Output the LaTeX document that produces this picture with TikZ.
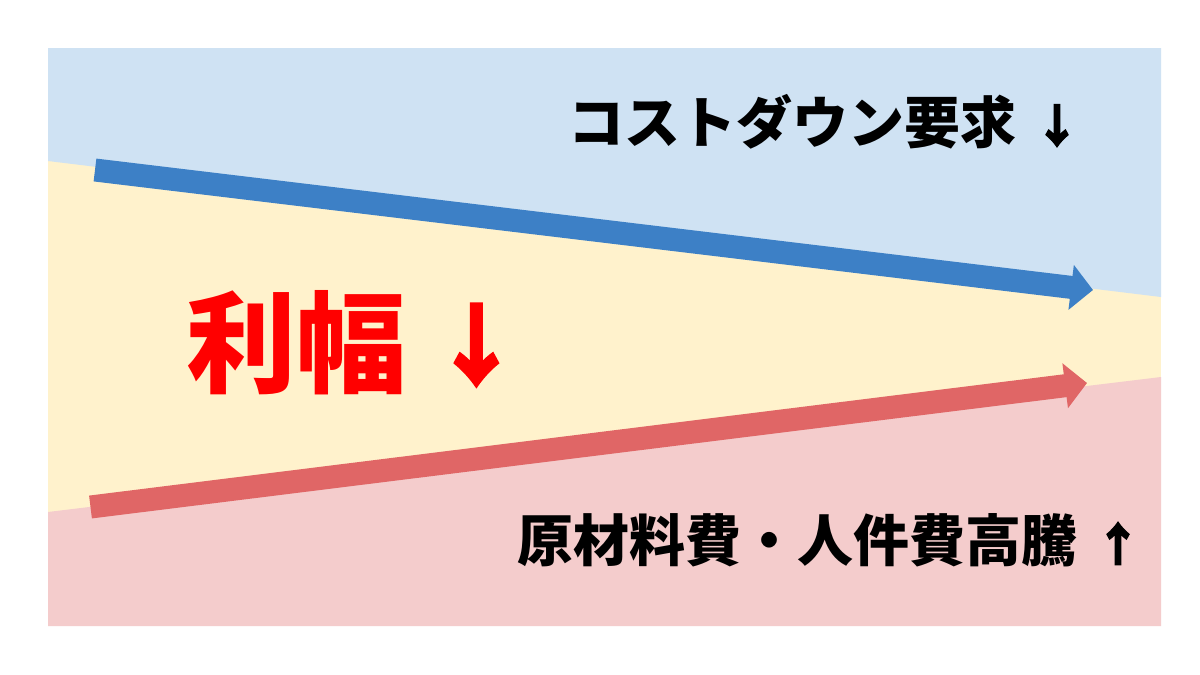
\documentclass[tikz,border=0pt]{standalone}
\usepackage{fontspec}
\newfontfamily\cjk{Noto Sans CJK JP}
\newfontfamily\cjkheavy{Noto Sans CJK JP}[BoldFeatures={FakeBold=2.5}]
\usetikzlibrary{arrows.meta}
\definecolor{bgblue}{HTML}{CFE2F3}
\definecolor{bgyellow}{HTML}{FFF2CC}
\definecolor{bgpink}{HTML}{F4CCCC}
\definecolor{arrblue}{HTML}{3D80C6}
\definecolor{arrred}{HTML}{E06666}
\definecolor{txtred}{HTML}{FF0000}
\newcommand{\smallarr}[1]{\hspace{5pt}{\cjkheavy\bfseries\fontsize{46}{48}\selectfont #1}}
\newcommand{\bigarr}[1]{\raisebox{5pt}{\cjkheavy\bfseries\fontsize{90}{96}\selectfont #1}}
\tikzset{
  bigarrow/.style={line width=23pt, line cap=butt, -{Triangle[length=22pt,width=44pt]}},
  lbl/.style={inner sep=0pt, anchor=base west, font=\cjk\bfseries\fontsize{56}{60}\selectfont},
  biglbl/.style={inner sep=0pt, anchor=base west, text=txtred, font=\cjk\bfseries\fontsize{110}{120}\selectfont}
}
\begin{document}
\begin{tikzpicture}[x=1pt,y=-1pt]
\useasboundingbox (0,0) rectangle (1200,675);
\fill[white] (0,0) rectangle (1200,675);
% background bands
\fill[bgyellow] (48,48) rectangle (1161,626);
\fill[bgblue] (48,48) -- (1161,48) -- (1161,297) -- (48,161) -- cycle;
\fill[bgpink] (48,512) -- (1161,377) -- (1161,626) -- (48,626) -- cycle;
% arrows
\coordinate (btail) at (95,170);
\coordinate (btip) at (1093,290);
\coordinate (rtail) at (90.5,507);
\coordinate (rtip) at (1087,383);
\draw[bigarrow, draw=arrblue, fill=arrblue] (btail) -- (btip);
\draw[bigarrow, draw=arrred, fill=arrred] (rtail) -- (rtip);
% labels
\node[lbl] (top) at (568,143) {コストダウン要求 \smallarr{↓}};
\node[lbl] (bot) at (517,561) {原材料費・人件費高騰 \smallarr{↑}};
\node[biglbl] (mid) at (186,384) {利幅 \bigarr{↓}};
\end{tikzpicture}
\end{document}
